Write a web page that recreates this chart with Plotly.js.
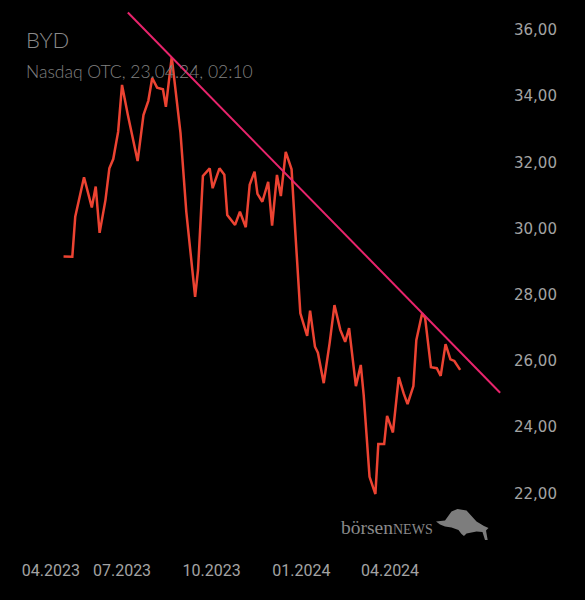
<!DOCTYPE html>
<html>
<head>
<meta charset="utf-8">
<script src="https://cdn.plot.ly/plotly-3.0.1.min.js"></script>
<style>html,body{margin:0;padding:0;background:#000;}#chart{width:585px;height:600px;}</style>
</head>
<body>
<div id="chart"></div>
<script>
const dates = ["2023-05-02","2023-05-11","2023-05-14","2023-05-23","2023-05-31","2023-06-04","2023-06-08","2023-06-14","2023-06-18","2023-06-22",
"2023-06-27","2023-07-01","2023-07-07","2023-07-17","2023-07-23","2023-07-28","2023-08-01","2023-08-06","2023-08-12","2023-08-15",
"2023-08-21","2023-08-30","2023-09-05","2023-09-14","2023-09-17","2023-09-22","2023-09-29","2023-10-02","2023-10-09","2023-10-14",
"2023-10-17","2023-10-25","2023-10-30","2023-11-05","2023-11-09","2023-11-14","2023-11-17","2023-11-22","2023-11-28","2023-12-02",
"2023-12-07","2023-12-11","2023-12-16","2023-12-22","2023-12-26","2023-12-31","2024-01-07","2024-01-10","2024-01-15","2024-01-18",
"2024-01-24","2024-01-30","2024-02-04","2024-02-10","2024-02-15","2024-02-19","2024-02-26","2024-03-02","2024-03-05","2024-03-11",
"2024-03-17","2024-03-20","2024-03-26","2024-03-29","2024-04-04","2024-04-10","2024-04-15","2024-04-19","2024-04-25","2024-04-28",
"2024-05-04","2024-05-07","2024-05-13","2024-05-19","2024-05-23","2024-05-28","2024-06-02","2024-06-06","2024-06-12"];
const prices = [29.16,29.15,30.36,31.55,30.64,31.27,29.87,30.86,31.82,32.10,
32.92,34.34,33.43,32.04,33.43,33.86,34.55,34.26,34.21,33.68,
35.18,32.89,30.50,27.94,28.75,31.59,31.82,31.22,31.82,31.63,
30.41,30.11,30.51,30.04,31.32,31.72,31.05,30.81,31.41,30.09,
31.62,30.98,32.32,31.79,29.81,27.44,26.76,27.52,26.43,26.25,
25.33,26.53,27.69,26.94,26.58,26.99,25.24,25.88,24.97,22.50,
21.98,23.49,23.49,24.34,23.84,25.51,25.02,24.70,25.24,26.63,
27.44,27.30,25.81,25.78,25.55,26.51,26.05,26.00,25.73];
const trendDates = ["2023-07-07","2024-07-23"];
const trendValues = [36.53, 25.04];
const tickDates = ["2023-04-19","2023-07-01","2023-10-01","2024-01-01","2024-04-01"];
const tickLabels = ["04.2023","07.2023","10.2023","01.2024","04.2024"];
const titleText = "BYD";
const subtitleText = "Nasdaq OTC, 23.04.24, 02:10";

const W = 585, H = 600, ML = 0, MR = 80, MT = 0, MB = 55;
const PW = W - ML - MR, PH = H - MT - MB;
const px = (x) => (x - ML) / PW;
const py = (y) => 1 - (y - MT) / PH;

// bull silhouette (decorative logo), pixel outline
const bull = [[436,521.5],[445,520.5],[451.5,511.5],[457.5,509],[466.5,510.5],[476.5,521.5],[484,526],[488.5,528],[486,530.5],[487.7,540],[485,540],[482.5,532],[476.5,531.5],[471.5,532.5],[466.5,533.5],[464,536],[461.5,534],[458.5,530],[451.5,527.5],[445,526.5],[440,524.5]];
const bullPath = bull.map((p,i)=>(i?'L':'M')+px(p[0]).toFixed(4)+','+py(p[1]).toFixed(4)).join(' ')+' Z';

const traces = [
  {x: dates, y: prices, type:'scatter', mode:'lines', line:{color:'#ec4332', width:2.5}, hoverinfo:'skip'},
  {x: trendDates, y: trendValues, type:'scatter', mode:'lines', line:{color:'#e8246c', width:2}, hoverinfo:'skip'}
];

const layout = {
  width: W, height: H,
  paper_bgcolor:'#000', plot_bgcolor:'#000',
  margin:{l:ML, r:MR, t:MT, b:MB},
  showlegend:false,
  separators:',.',
  xaxis:{type:'date', range:["2023-02-25 19:00","2024-07-28"], showgrid:false, zeroline:false, showline:false,
    tickmode:'array', tickvals: tickDates, ticktext: tickLabels, ticks:'', ticklabelstandoff:14,
    tickfont:{family:'Roboto, sans-serif', size:16, color:'#a3a3a3'}},
  yaxis:{side:'right', range:[20.44, 36.906], dtick:2, tick0:0, tickformat:'.2f', showgrid:false, zeroline:false, showline:false,
    ticks:'', ticklabelstandoff:8, tickfont:{family:'DejaVu Sans, sans-serif', size:15, color:'#a3a3a3'}},
  annotations:[
    {text:titleText, xref:'paper', yref:'paper', x:px(24), y:py(39), xanchor:'left', yanchor:'middle', showarrow:false,
      font:{family:'Lato, sans-serif', size:22, weight:300, color:'#8a8a8a'}},
    {text:subtitleText, xref:'paper', yref:'paper', x:px(24), y:py(71), xanchor:'left', yanchor:'middle', showarrow:false,
      font:{family:'Lato, sans-serif', size:17.5, weight:300, color:'#808080'}},
    {text:'börsen<span style="font-size:14px">NEWS</span>', xref:'paper', yref:'paper', x:px(339), y:py(527), xanchor:'left', yanchor:'middle', showarrow:false,
      font:{family:'Liberation Serif, serif', size:19.5, color:'#8a8a8a'}}
  ],
  shapes:[
    {type:'path', xref:'paper', yref:'paper', path: bullPath, fillcolor:'#7d7d7d', line:{width:0}, layer:'above'}
  ]
};

Plotly.newPlot('chart', traces, layout, {staticPlot:true, displayModeBar:false});
</script>
</body>
</html>
